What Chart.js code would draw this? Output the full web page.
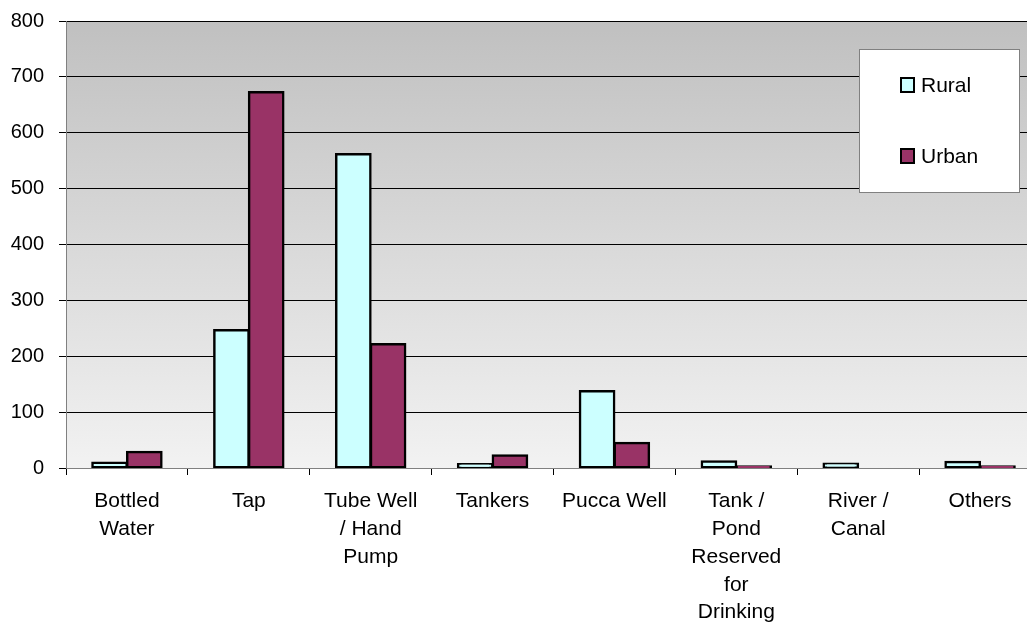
<!DOCTYPE html>
<html lang="en">
<head>
  <meta charset="UTF-8">
  <title>Drinking Water Source</title>
  <style>
    html, body {
      margin: 0;
      padding: 0;
      background: #fff;
      overflow: hidden;
    }
    #wrap {
      width: 1041px;
      height: 624px;
    }
  </style>
  <script src="https://cdn.jsdelivr.net/npm/chart.js"></script>
</head>
<body>
  <div id="wrap">
    <canvas id="water-chart" width="1041" height="624"></canvas>
  </div>
  <script>
    // chart data
    const categories = [
      ['Bottled', 'Water'],
      'Tap',
      ['Tube Well', '/ Hand', 'Pump'],
      'Tankers',
      'Pucca Well',
      ['Tank /', 'Pond', 'Reserved', 'for', 'Drinking'],
      ['River /', 'Canal'],
      'Others'
    ];
    const rural = [10, 247, 562, 7, 138, 12, 8, 11];
    const urban = [29, 673, 222, 23, 45, 3, 0, 3];
    const yTicks = [0, 100, 200, 300, 400, 500, 600, 700, 800];

    const font = 'Liberation Sans, Arial, sans-serif';

    // gray-to-white plot background
    const plotBackground = {
      id: 'plotBackground',
      beforeDraw(chart) {
        const { ctx, chartArea: a } = chart;
        const g = ctx.createLinearGradient(0, a.top, 0, a.bottom);
        g.addColorStop(0, '#c0c0c0');
        g.addColorStop(1, '#f2f2f2');
        ctx.save();
        ctx.fillStyle = g;
        ctx.fillRect(a.left, a.top, a.right - a.left, a.bottom - a.top);
        ctx.restore();
      }
    };

    // boxed legend in the top right corner
    const boxLegend = {
      id: 'boxLegend',
      afterDraw(chart) {
        const ctx = chart.ctx;
        const sets = chart.data.datasets;
        ctx.save();
        ctx.fillStyle = '#fff';
        ctx.fillRect(859, 49, 160, 143);
        ctx.strokeStyle = '#808080';
        ctx.lineWidth = 1;
        ctx.strokeRect(859.5, 49.5, 160, 143);
        ctx.font = '21px ' + font;
        ctx.textBaseline = 'middle';
        sets.forEach((ds, i) => {
          const cy = 85 + i * 71;
          ctx.fillStyle = ds.backgroundColor;
          ctx.fillRect(901, cy - 7, 13, 14);
          ctx.strokeStyle = '#000';
          ctx.lineWidth = 2;
          ctx.strokeRect(901, cy - 7, 13, 14);
          ctx.fillStyle = '#000';
          ctx.fillText(ds.label, 921, cy + 1);
        });
        ctx.restore();
      }
    };

    new Chart(document.getElementById('water-chart'), {
      type: 'bar',
      data: {
        labels: categories,
        datasets: [
          {
            label: 'Rural',
            data: rural,
            backgroundColor: '#ccffff',
            borderColor: '#000',
            borderWidth: 2.5,
            borderSkipped: false,
            inflateAmount: 1,
            categoryPercentage: 0.57,
            barPercentage: 1.0
          },
          {
            label: 'Urban',
            data: urban,
            backgroundColor: '#993366',
            borderColor: '#000',
            borderWidth: 2.5,
            borderSkipped: false,
            inflateAmount: 1,
            categoryPercentage: 0.57,
            barPercentage: 1.0
          }
        ]
      },
      options: {
        responsive: false,
        animation: false,
        layout: { padding: { top: 21, right: 0, bottom: 0, left: 0 } },
        scales: {
          x: {
            grid: {
              offset: true,
              drawOnChartArea: false,
              drawTicks: true,
              tickLength: 7,
              tickColor: '#000'
            },
            border: { color: '#808080', width: 1 },
            ticks: {
              color: '#000',
              font: { family: font, size: 21, lineHeight: 1.33 },
              padding: 12,
              maxRotation: 0,
              autoSkip: false
            },
            afterFit(scale) { scale.height = 156; }
          },
          y: {
            min: 0,
            max: 800,
            afterBuildTicks(scale) {
              scale.ticks = yTicks.map(v => ({ value: v }));
            },
            grid: {
              color: '#000',
              lineWidth: 1,
              tickLength: 7,
              tickColor: '#000'
            },
            border: { color: '#808080', width: 1 },
            ticks: {
              color: '#000',
              font: { family: font, size: 20 },
              padding: 15
            },
            afterFit(scale) {
              scale.width = 66;
              scale.paddingTop = 0;
              scale.paddingBottom = 0;
            }
          }
        },
        plugins: {
          legend: { display: false },
          tooltip: { enabled: false }
        }
      },
      plugins: [plotBackground, boxLegend]
    });
  </script>
</body>
</html>
